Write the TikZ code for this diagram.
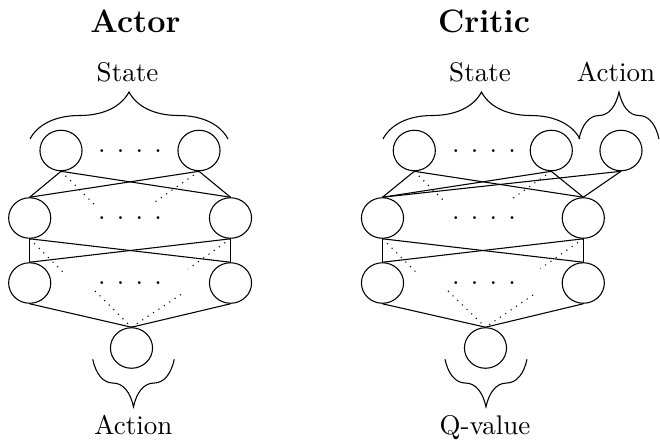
\documentclass[tikz,border=0pt]{standalone}
\usetikzlibrary{shapes.geometric}
\tikzset{
  neuron/.style={draw, ellipse, minimum width=15.6pt, minimum height=15pt, inner sep=0pt},
  dotrow/.style={anchor=base, inner sep=0pt},
  lbl/.style={anchor=base, inner sep=0pt},
  ttl/.style={anchor=base, inner sep=0pt, font=\large\bfseries},
  link/.style={draw},
  hidlink/.style={draw, dotted},
  pics/cbrace/.style 2 args={code={
    \draw (0,0) .. controls (0.075*#1,0.3*#2) and (0.25*#1,0.5*#2) .. (0.5*#1,0.5*#2)
      .. controls (0.75*#1,0.5*#2) and (0.925*#1,0.7*#2) .. (#1,#2)
      .. controls (1.075*#1,0.7*#2) and (1.25*#1,0.5*#2) .. (1.5*#1,0.5*#2)
      .. controls (1.75*#1,0.5*#2) and (1.925*#1,0.3*#2) .. (2*#1,0);
  }}
}
\newcommand{\fourdots}{.\hspace{4.15pt}.\hspace{4.15pt}.\hspace{4.15pt}.}
\begin{document}
\begin{tikzpicture}[x=0.37037pt, y=-0.37037pt]
\useasboundingbox (0,0) rectangle (660,441);

% ---------------- Actor ----------------
\node[ttl] (tActor) at (135.5,32.3) {Actor};
\node[lbl] (sA) at (127.5,81.7) {State};
\node[lbl] (oA) at (133.3,434) {Action};

\node[neuron] (a1) at (61,150.5) {};
\node[neuron] (a2) at (199,150.5) {};
\node[dotrow] (ad1) at (130,152.5) {\fourdots};
\node[neuron] (h1) at (29.7,218) {};
\node[neuron] (h2) at (230.5,218) {};
\node[dotrow] (ad2) at (130,219.5) {\fourdots};
\node[neuron] (g1) at (29.7,283) {};
\node[neuron] (g2) at (230.5,283) {};
\node[dotrow] (ad3) at (130,284.5) {\fourdots};
\node[neuron] (out) at (131.5,348) {};

\foreach \s in {a1,a2} \foreach \t in {h1,h2} \path[link] (\s.south) -- (\t.north);
\foreach \s in {h1,h2} \foreach \t in {g1,g2} \path[link] (\s.south) -- (\t.north);
\foreach \s in {g1,g2} \path[link] (\s.south) -- (out.north);

\coordinate (aL12) at (94,204);
\coordinate (aR12) at (155,202);
\coordinate (aL23) at (66,275);
\coordinate (aR23) at (188,269);
\coordinate (aL3o) at (95,291);
\coordinate (aR3o) at (181,294.5);
\path[hidlink] (a1.south) -- (aL12);
\path[hidlink] (a2.south) -- (aR12);
\path[hidlink] (h1.south) -- (aL23);
\path[hidlink] (h2.south) -- (aR23);
\path[hidlink] (aL3o) -- (out.north);
\path[hidlink] (aR3o) -- (out.north);

\pic at (30,139) {cbrace={99}{-47}};
\pic at (92.7,359.3) {cbrace={40.8}{47.5}};

% ---------------- Critic ----------------
\node[ttl] (tCritic) at (484,32.3) {Critic};
\node[lbl] (sC) at (480,81.7) {State};
\node[lbl] (aC) at (616,81.7) {Action};
\node[lbl] (qC) at (485,434) {Q-value};

\node[neuron] (c1) at (414.3,150.5) {};
\node[neuron] (c2) at (551.3,150.5) {};
\node[neuron] (c3) at (621,150.5) {};
\node[dotrow] (cd1) at (484,152.5) {\fourdots};
\node[neuron] (d1) at (382.5,218) {};
\node[neuron] (d2) at (583.3,218) {};
\node[dotrow] (cd2) at (484,219.5) {\fourdots};
\node[neuron] (e1) at (382.5,283) {};
\node[neuron] (e2) at (583.3,283) {};
\node[dotrow] (cd3) at (484,284.5) {\fourdots};
\node[neuron] (q) at (485.5,348) {};

\foreach \s in {c1,c2,c3} \foreach \t in {d1,d2} \path[link] (\s.south) -- (\t.north);
\foreach \s in {d1,d2} \foreach \t in {e1,e2} \path[link] (\s.south) -- (\t.north);
\foreach \s in {e1,e2} \path[link] (\s.south) -- (q.north);

\coordinate (cL12) at (446,203);
\coordinate (cR12) at (509,201);
\coordinate (cL23) at (418,274);
\coordinate (cR23) at (540.5,268.5);
\coordinate (cL3o) at (448,291);
\coordinate (cR3o) at (533,295);
\path[hidlink] (c1.south) -- (cL12);
\path[hidlink] (c2.south) -- (cR12);
\path[hidlink] (d1.south) -- (cL23);
\path[hidlink] (d2.south) -- (cR23);
\path[hidlink] (cL3o) -- (q.north);
\path[hidlink] (cR3o) -- (q.north);

\pic at (383,139) {cbrace={98.5}{-47}};
\pic at (579,139) {cbrace={40}{-47}};
\pic at (445,359.3) {cbrace={41}{47.5}};
\end{tikzpicture}
\end{document}
